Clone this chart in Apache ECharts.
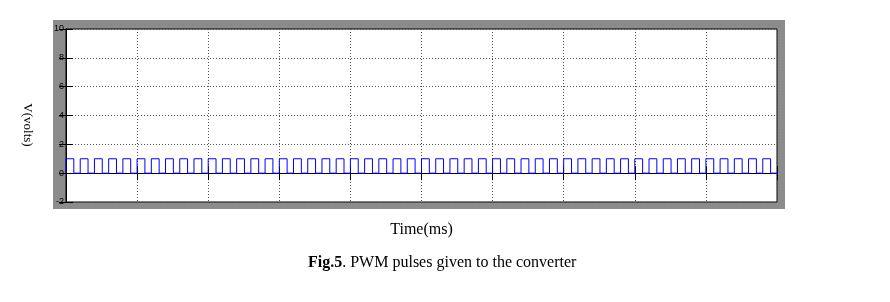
<!DOCTYPE html>
<html>
<head>
<meta charset="utf-8">
<script src="https://cdn.jsdelivr.net/npm/echarts@6/dist/echarts.min.js"></script>
<style>
html,body{margin:0;padding:0;background:#fff;}
#chart{width:890px;height:302px;}
</style>
</head>
<body>
<div id="chart"></div>
<script>
// Tick labels
const yTicks = [-2, 0, 2, 4, 6, 8, 10];
const xTicks = [0, 1, 2, 3, 4, 5, 6, 7, 8, 9, 10];
// Pulse rise times (ms-axis units) and pulse levels
const riseTimes = [
  0.0, 0.2, 0.4, 0.6, 0.8, 1.0, 1.2, 1.4, 1.6, 1.8,
  2.0, 2.2, 2.4, 2.6, 2.8, 3.0, 3.2, 3.4, 3.6, 3.8,
  4.0, 4.2, 4.4, 4.6, 4.8, 5.0, 5.2, 5.4, 5.6, 5.8,
  6.0, 6.2, 6.4, 6.6, 6.8, 7.0, 7.2, 7.4, 7.6, 7.8,
  8.0, 8.2, 8.4, 8.6, 8.8, 9.0, 9.2, 9.4, 9.6, 9.8
];
const fallTimes = [
  0.11, 0.31, 0.51, 0.71, 0.91, 1.11, 1.31, 1.51, 1.71, 1.91,
  2.11, 2.31, 2.51, 2.71, 2.91, 3.11, 3.31, 3.51, 3.71, 3.91,
  4.11, 4.31, 4.51, 4.71, 4.91, 5.11, 5.31, 5.51, 5.71, 5.91,
  6.11, 6.31, 6.51, 6.71, 6.91, 7.11, 7.31, 7.51, 7.71, 7.91,
  8.11, 8.31, 8.51, 8.71, 8.91, 9.11, 9.31, 9.51, 9.71, 9.91
];
const highLevel = 1;
const lowLevel = 0;
const endTime = 10;

const pts = [];
for (let i = 0; i < riseTimes.length; i++) {
  pts.push([riseTimes[i], lowLevel]);
  pts.push([riseTimes[i], highLevel]);
  pts.push([fallTimes[i], highLevel]);
  pts.push([fallTimes[i], lowLevel]);
}
pts.push([endTime, lowLevel]);

const chart = echarts.init(document.getElementById('chart'), null, {renderer: 'canvas'});
const serif = '"Liberation Serif", "DejaVu Serif", serif';
const split = {show: true, lineStyle: {type: [1, 2], color: '#555', width: 1}};
const tick = {show: true, inside: true, length: 7, lineStyle: {color: '#000', width: 1}};

chart.setOption({
  animation: false,
  backgroundColor: '#fff',
  graphic: [
    {type: 'rect', z: -10, shape: {x: 53, y: 20, width: 732, height: 189}, style: {fill: '#8c8c8c'}},
    {type: 'text', x: 27, y: 125, rotation: -Math.PI / 2,
     style: {text: 'V(volts)', font: '13px ' + serif, fill: '#000', textAlign: 'center', textVerticalAlign: 'middle'}}
  ],
  title: {
    text: '{b|Fig.5}. PWM pulses given to the converter',
    left: 303, top: 250,
    textStyle: {
      fontFamily: serif, fontSize: 16, fontWeight: 'normal', color: '#000',
      rich: {b: {fontFamily: serif, fontSize: 16, fontWeight: 'bold', color: '#000'}}
    }
  },
  grid: {left: 66, top: 29, right: 113, bottom: 100, show: true, backgroundColor: '#fff', borderColor: '#000', borderWidth: 1},
  xAxis: [
    {type: 'value', min: xTicks[0], max: xTicks[xTicks.length - 1], interval: 1, position: 'bottom',
     name: 'Time(ms)', nameLocation: 'middle', nameGap: 20,
     nameTextStyle: {fontFamily: serif, fontSize: 16, color: '#000'},
     axisLine: {show: true, lineStyle: {color: '#000'}}, axisTick: tick,
     axisLabel: {show: false}, splitLine: split},
    {type: 'value', min: xTicks[0], max: xTicks[xTicks.length - 1], interval: 1, position: 'top',
     axisLine: {show: true, lineStyle: {color: '#000'}}, axisTick: tick,
     axisLabel: {show: false}, splitLine: {show: false}}
  ],
  yAxis: [
    {type: 'value', min: yTicks[0], max: yTicks[yTicks.length - 1], interval: 2, position: 'left',
     axisLine: {show: true, lineStyle: {color: '#000'}}, axisTick: tick,
     axisLabel: {show: true, margin: 2, fontSize: 9, fontFamily: '"Liberation Sans", sans-serif', color: '#000'},
     splitLine: split},
    {type: 'value', min: yTicks[0], max: yTicks[yTicks.length - 1], interval: 2, position: 'right',
     axisLine: {show: true, lineStyle: {color: '#000'}}, axisTick: tick,
     axisLabel: {show: false}, splitLine: {show: false}}
  ],
  series: [{
    type: 'line', data: pts, xAxisIndex: 0, yAxisIndex: 0,
    showSymbol: false, symbol: 'none',
    lineStyle: {color: '#0000ff', width: 1}, itemStyle: {color: '#0000ff'}
  }]
});
</script>
</body>
</html>
